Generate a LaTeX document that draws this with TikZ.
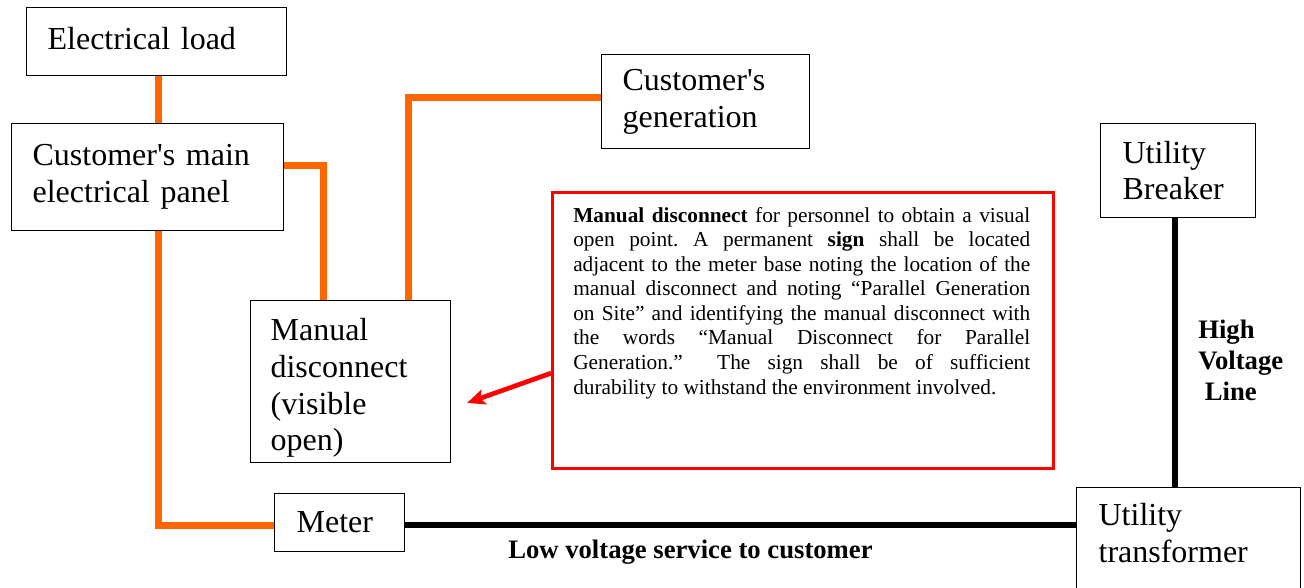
\documentclass[tikz,border=0pt]{standalone}
\usepackage{fontspec}
\setmainfont{Liberation Serif}[Ligatures=TeXOff]
\usetikzlibrary{arrows.meta}
\definecolor{wireorange}{HTML}{FF6600}
\definecolor{notered}{HTML}{FF0000}
\frenchspacing
\begin{document}
\begin{tikzpicture}[x=0.75pt,y=-0.75pt,
  box/.style={draw=black,line width=0.9pt,anchor=north west,align=left,inner ysep=0pt,
    font=\fontsize{24}{27.5}\selectfont},
  wire/.style={draw=wireorange,line width=5.25pt},
  hvwire/.style={draw=black,line width=4.8pt},
  notebox/.style={draw=notered,line width=2.25pt,anchor=north west,inner sep=0pt},
  notetext/.style={anchor=north west,inner sep=0pt,align=justify,text width=342.75pt,
    font=\fontsize{16}{18.4}\selectfont},
  notearrow/.style={draw=notered,line width=3.5pt,-{Stealth[length=13.5pt,width=11.5pt,inset=3pt]}},
  lbl/.style={inner sep=0pt,font=\bfseries\fontsize{20}{23.25}\selectfont}]
\useasboundingbox (0,0) rectangle (1304,588);
\clip (0,0) rectangle (1304,588);

% boxes
\node[box,minimum width=195pt,minimum height=51pt,inner xsep=15.75pt,text width=163.5pt]
  (load) at (26,7) {Electrical load\rule[-5.4pt]{0pt}{0pt}};
\node[box,minimum width=204pt,minimum height=80.25pt,inner xsep=15.75pt,text width=172.5pt]
  (panel) at (11,123) {Customer's main\\electrical panel};
\node[box,minimum width=156pt,minimum height=70.5pt,inner xsep=15.75pt,text width=124.5pt]
  (gen) at (601,54) {Customer's\\generation};
\node[box,minimum width=150pt,minimum height=121.5pt,inner xsep=15pt,text width=120pt]
  (md) at (250,300) {\rule{0pt}{26.25pt}Manual\\disconnect\\(visible\\open)};
\node[box,minimum width=116.25pt,minimum height=70.5pt,inner xsep=16.5pt,text width=83.25pt]
  (brk) at (1100,123) {Utility\\Breaker};
\node[box,minimum width=97.5pt,minimum height=43.5pt,inner xsep=16.5pt,text width=64.5pt]
  (meter) at (274,493) {Meter};
\node[box,minimum width=168pt,minimum height=84.75pt,inner xsep=16.5pt,text width=135pt]
  (trans) at (1076,487) {Utility\\transformer\rule[-16.5pt]{0pt}{0pt}};

% note
\node[notebox,minimum width=375.75pt,minimum height=207pt] (note) at (551,191) {};
\node[notetext] (notetext) at (573,207) {\textbf{Manual disconnect} for personnel to obtain a visual\linebreak
open point. A permanent \textbf{sign} shall be located\linebreak
adjacent to the meter base noting the location of the\linebreak
manual disconnect and noting “Parallel Generation\linebreak
on Site” and identifying the manual disconnect with\linebreak
the words “Manual Disconnect for Parallel\linebreak
Generation.”\ \ The sign shall be of sufficient\linebreak
durability to withstand the environment involved.};

% helper coordinates
\coordinate (xa) at (158.5,0);
\coordinate (xb) at (323.5,0);
\coordinate (xc) at (408,0);
\coordinate (xd) at (1175,0);
\coordinate (ya) at (0,165.5);
\coordinate (yb) at (0,98);
\coordinate (yc) at (0,525);
\coordinate (tip) at (467,403);

% wires
\draw[wire] (xa |- load.south) -- (xa |- panel.north);
\draw[wire] (panel.east |- ya) -| (xb |- md.north);
\draw[wire] (xc |- md.north) |- (gen.west |- yb);
\draw[wire] (xa |- panel.south) |- (meter.west |- yc);
\draw[hvwire] (meter.east |- yc) -- (trans.west |- yc);
\draw[hvwire] (xd |- brk.south) -- (xd |- trans.north);

% arrow
\draw[notearrow] ([yshift=-32pt]note.west) -- (tip);

% labels
\node[lbl,anchor=base west] (lvlabel) at (508,558) {Low voltage service to customer};
\node[lbl,anchor=north west,align=left] (hvlabel) at (1198,320) {High\\Voltage\\\hspace*{0.25em}Line};
\end{tikzpicture}
\end{document}
